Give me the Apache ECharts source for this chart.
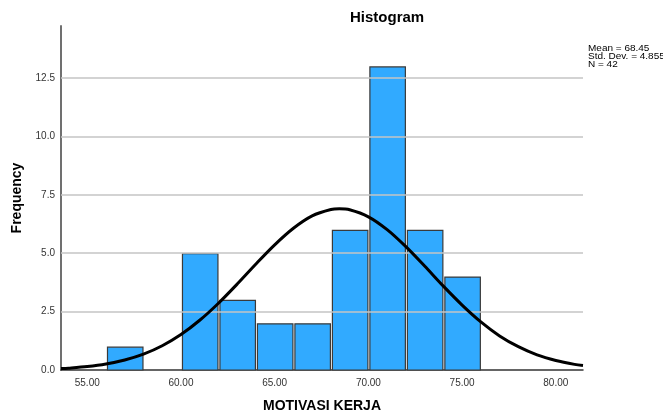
<!DOCTYPE html>
<html>
<head>
<meta charset="utf-8">
<script src="https://cdn.jsdelivr.net/npm/echarts@6/dist/echarts.min.js"></script>
<style>
  html, body { margin: 0; padding: 0; background: #fff; }
  #chart { width: 663px; height: 415px; }
</style>
</head>
<body>
<div id="chart"></div>
<script>
// Histogram bins of MOTIVASI KERJA (lower edge, upper edge, frequency)
const binStart = [56, 60, 62, 64, 66, 68, 70, 72, 74];
const binEnd   = [58, 62, 64, 66, 68, 70, 72, 74, 76];
const counts   = [1, 5, 3, 2, 2, 6, 13, 6, 4];

// Fitted normal curve, sampled along the x axis
const curveX = [53.6, 54, 55, 56, 57, 58, 59, 60, 61, 62, 63, 64, 65, 66, 67, 68, 68.45,
                69, 70, 71, 72, 73, 74, 75, 76, 77, 78, 79, 80, 81, 81.45];
const curveY = [0.06, 0.08, 0.15, 0.26, 0.43, 0.68, 1.04, 1.52, 2.13, 2.86, 3.68, 4.54, 5.36, 6.07, 6.60, 6.87, 6.90,
                6.86, 6.56, 6.01, 5.28, 4.45, 3.59, 2.78, 2.06, 1.46, 1.00, 0.65, 0.41, 0.24, 0.19];

// Axis tick values
const xTicks = [55, 60, 65, 70, 75, 80];
const yTicks = [0, 2.5, 5, 7.5, 10, 12.5];

// Summary statistics
const statLines = ['Mean = 68.45', 'Std. Dev. = 4.855', 'N = 42'];

const FONT = '"Liberation Sans", Arial, sans-serif';

const barData = binStart.map((s, i) => [s, binEnd[i], counts[i]]);
const curveData = curveX.map((x, i) => [x, curveY[i]]);

const chart = echarts.init(document.getElementById('chart'), null, { renderer: 'canvas' });

chart.setOption({
  animation: false,
  backgroundColor: '#ffffff',
  title: {
    text: 'Histogram',
    left: 345,
    top: 5,
    textStyle: { fontFamily: FONT, fontSize: 15, fontWeight: 'bold', color: '#000' }
  },
  grid: { left: 61, right: 80, top: 26, bottom: 45, outerBoundsMode: 'none', containLabel: false },
  xAxis: {
    type: 'value',
    min: 53.6,
    max: 81.45,
    name: 'MOTIVASI KERJA',
    nameLocation: 'middle',
    nameGap: 29,
    nameTextStyle: { fontFamily: FONT, fontSize: 14, fontWeight: 'bold', color: '#000' },
    axisLine: { show: true, onZero: false, lineStyle: { color: '#333', width: 1.5 } },
    axisTick: { show: false },
    splitLine: { show: false },
    axisLabel: {
      customValues: xTicks,
      formatter: v => v.toFixed(2),
      fontFamily: FONT, fontSize: 10, color: '#333', margin: 8
    }
  },
  yAxis: {
    type: 'value',
    min: 0,
    max: 14.73,
    name: 'Frequency',
    nameLocation: 'middle',
    nameGap: 34,
    nameRotate: 90,
    nameTextStyle: { fontFamily: FONT, fontSize: 14, fontWeight: 'bold', color: '#000' },
    axisLine: { show: true, lineStyle: { color: '#707070', width: 2 } },
    axisTick: { show: false, customValues: yTicks },
    splitLine: { show: false },
    axisLabel: {
      customValues: yTicks,
      formatter: v => v.toFixed(1),
      fontFamily: FONT, fontSize: 10, color: '#333', margin: 6
    }
  },
  series: [
    {
      // horizontal reference lines at each y tick
      type: 'line',
      data: [],
      silent: true,
      markLine: {
        symbol: 'none',
        silent: true,
        label: { show: false },
        lineStyle: { color: '#c4c4c4', width: 1.5, type: 'solid' },
        data: yTicks.filter(v => v > 0).map(v => ({ yAxis: v }))
      }
    },
    {
      type: 'custom',
      z: 3,
      data: barData,
      encode: { x: [0, 1], y: 2 },
      renderItem: function (params, api) {
        const p0 = api.coord([api.value(0), 0]);
        const p1 = api.coord([api.value(1), api.value(2)]);
        const x = p0[0] + 1.5;
        const w = p1[0] - p0[0] - 2;
        return {
          type: 'rect',
          shape: { x: x, y: p1[1] + 0.5, width: w, height: p0[1] - p1[1] - 0.5 },
          style: { fill: '#31aaff', stroke: '#3a3a3a', lineWidth: 1.2 }
        };
      }
    },
    {
      type: 'line',
      z: 5,
      data: curveData,
      smooth: 0.3,
      showSymbol: false,
      lineStyle: { color: '#000', width: 3 }
    }
  ],
  graphic: statLines.map((t, i) => ({
    type: 'text',
    x: 588,
    y: 48.5 + i * 8,
    scaleY: 0.82,
    style: { text: t, font: '10px ' + FONT, fill: '#000', verticalAlign: 'middle' }
  }))
});
</script>
</body>
</html>
